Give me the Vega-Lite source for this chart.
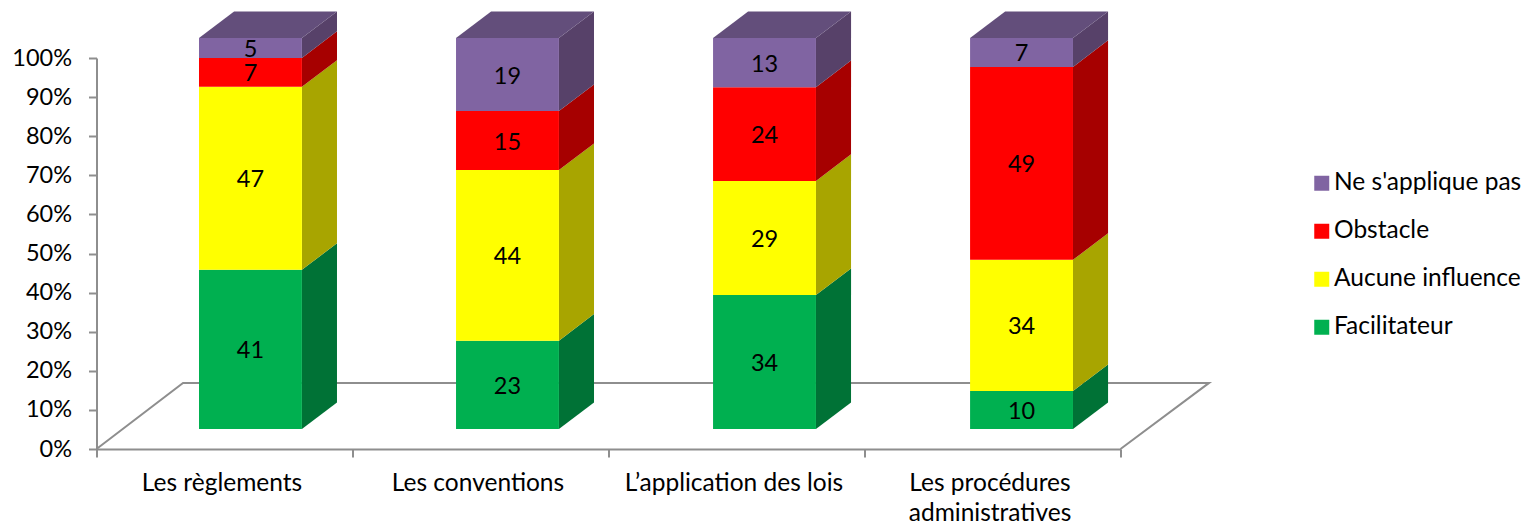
{
"$schema":"https://vega.github.io/schema/vega-lite/v6.json",
"autosize":{"type":"none"},
"padding":{"left":96.5,"top":58,"right":407.5,"bottom":76},
"width":1024,"height":391,
"background":"white",
"config":{"view":{"stroke":null},"font":"Lato",
"axisY":{"title":null,"values":[0,0.1,0.2,0.3,0.4,0.5,0.6,0.7,0.8,0.9,1],"format":".0%","grid":false,"labelOverlap":false,"domainColor":"#8e8e8e","domainWidth":2,"tickColor":"#8e8e8e","tickWidth":2,"tickSize":8,"labelFontSize":23.5,"labelColor":"#000000","labelPadding":17,"labelFont":"Lato"}},
"data":{"values":[
{"cat":"Les règlements","serie":"Facilitateur","value":40.7},
{"cat":"Les règlements","serie":"Aucune influence","value":46.8},
{"cat":"Les règlements","serie":"Obstacle","value":7.4},
{"cat":"Les règlements","serie":"Ne s'applique pas","value":5.1},
{"cat":"Les conventions","serie":"Facilitateur","value":22.6},
{"cat":"Les conventions","serie":"Aucune influence","value":43.7},
{"cat":"Les conventions","serie":"Obstacle","value":15.1},
{"cat":"Les conventions","serie":"Ne s'applique pas","value":18.7},
{"cat":"L’application des lois","serie":"Facilitateur","value":34.3},
{"cat":"L’application des lois","serie":"Aucune influence","value":29.2},
{"cat":"L’application des lois","serie":"Obstacle","value":24},
{"cat":"L’application des lois","serie":"Ne s'applique pas","value":12.6},
{"cat":"Les procédures administratives","serie":"Facilitateur","value":9.7},
{"cat":"Les procédures administratives","serie":"Aucune influence","value":33.6},
{"cat":"Les procédures administratives","serie":"Obstacle","value":49.4},
{"cat":"Les procédures administratives","serie":"Ne s'applique pas","value":7.4}
]},
"transform":[
{"calculate":"indexof(['Facilitateur','Aucune influence','Obstacle','Ne s\\'applique pas'],datum.serie)","as":"ordre"},
{"calculate":"indexof(['Les règlements','Les conventions','L’application des lois','Les procédures administratives'],datum.cat)","as":"idx"},
{"stack":"value","groupby":["cat"],"sort":[{"field":"ordre","order":"ascending"}],"offset":"normalize","as":["s0","s1"]},
{"calculate":"0.4004+datum.idx*1.004","as":"left"},
{"calculate":"datum.left+0.402","as":"right"},
{"calculate":"datum.s0+0.0512","as":"low"},
{"calculate":"datum.s1+0.0512","as":"high"},
{"calculate":"0","as":"k0"},
{"calculate":"1","as":"k1"}
],
"layer":[
{"data":{"values":[
{"px":0,"py":0,"o":0},{"px":0.338,"py":0.169,"o":1},{"px":4.346,"py":0.169,"o":2},{"px":4,"py":0,"o":3}
]},
"mark":{"type":"line","color":"#8e8e8e","strokeWidth":2},
"encoding":{
"x":{"field":"px","type":"quantitative","scale":{"domain":[0,4],"nice":false,"zero":false},"axis":null},
"y":{"field":"py","type":"quantitative","scale":{"domain":[0,1],"nice":false},"axis":{"title":null}},
"order":{"field":"o","type":"quantitative"}}
},
{"transform":[{"fold":["k0","k1"],"as":["kn","k"]},{"calculate":"datum.right+datum.k*0.137","as":"xs"},{"calculate":"datum.low+datum.k*0.068","as":"ya"},{"calculate":"datum.high+datum.k*0.068","as":"yb"},{"calculate":"datum.cat+datum.serie","as":"face"}],
"mark":{"type":"area","orient":"vertical"},
"encoding":{
"x":{"field":"xs","type":"quantitative","scale":{"domain":[0,4],"nice":false,"zero":false},"axis":null},
"y":{"field":"ya","type":"quantitative","scale":{"domain":[0,1],"nice":false},"axis":{"title":null}},
"y2":{"field":"yb"},
"detail":{"field":"face","type":"nominal"},
"color":{"field":"serie","type":"nominal","scale":{"domain":["Ne s'applique pas","Obstacle","Aucune influence","Facilitateur"],"range":["#574169","#A60000","#A8A500","#007236"]},"legend":null}}
},
{"transform":[{"filter":"datum.s1>0.9999"},{"fold":["k0","k1"],"as":["kn","k"]},{"calculate":"datum.left+datum.k*0.137","as":"xa"},{"calculate":"datum.right+datum.k*0.137","as":"xb"},{"calculate":"datum.high+datum.k*0.068","as":"yt"}],
"mark":{"type":"area","orient":"horizontal","color":"#634E7B"},
"encoding":{
"y":{"field":"yt","type":"quantitative","scale":{"domain":[0,1],"nice":false},"axis":{"title":null}},
"x":{"field":"xa","type":"quantitative","scale":{"domain":[0,4],"nice":false,"zero":false},"axis":null},
"x2":{"field":"xb"},
"detail":{"field":"cat","type":"nominal"}}
},
{"mark":{"type":"rect"},
"encoding":{
"x":{"field":"left","type":"quantitative","scale":{"domain":[0,4],"nice":false,"zero":false},"axis":null},
"x2":{"field":"right"},
"y":{"field":"low","type":"quantitative","scale":{"domain":[0,1],"nice":false},"axis":{"title":null}},
"y2":{"field":"high"},
"color":{"field":"serie","type":"nominal","scale":{"domain":["Ne s'applique pas","Obstacle","Aucune influence","Facilitateur"],"range":["#8064A2","#FF0000","#FFFF00","#00B050"]},
"legend":{"title":null,"orient":"none","legendX":1213,"legendY":113,"symbolType":"square","symbolSize":225,"symbolStrokeWidth":0,"symbolOpacity":1,"labelFontSize":24.5,"labelFont":"Lato","labelColor":"#000000","rowPadding":23,"labelOffset":0,"labelLimit":300}}}
},
{"transform":[{"calculate":"datum.left+0.201","as":"cx"},{"calculate":"(datum.low+datum.high)/2","as":"cy"}],
"mark":{"type":"text","fontSize":23.5,"color":"#000000","font":"Lato","dy":2},
"encoding":{
"x":{"field":"cx","type":"quantitative","scale":{"domain":[0,4],"nice":false,"zero":false},"axis":null},
"y":{"field":"cy","type":"quantitative","scale":{"domain":[0,1],"nice":false},"axis":{"title":null}},
"text":{"field":"value","type":"quantitative","format":".0f"}}
},
{"mark":{"type":"point","opacity":0},
"encoding":{
"x":{"field":"cat","type":"nominal","sort":["Les règlements","Les conventions","L’application des lois","Les procédures administratives"],"scale":{"type":"band","paddingInner":0,"paddingOuter":0},
"axis":{"title":null,"tickBand":"extent","labelAngle":0,"domainColor":"#8e8e8e","domainWidth":2,"tickColor":"#8e8e8e","tickWidth":2,"tickSize":8,"labelFontSize":24.5,"labelFont":"Lato","labelColor":"#000000","labelPadding":14,"labelOffset":-3,"labelLineHeight":30,"labelLimit":300,"labelExpr":"datum.label=='Les procédures administratives'?['Les procédures','administratives']:datum.label"}},
"y":{"field":"s1","type":"quantitative","scale":{"domain":[0,1],"nice":false},"axis":{"title":null}}}
}
],
"resolve":{"scale":{"x":"independent","color":"independent"}}
}
